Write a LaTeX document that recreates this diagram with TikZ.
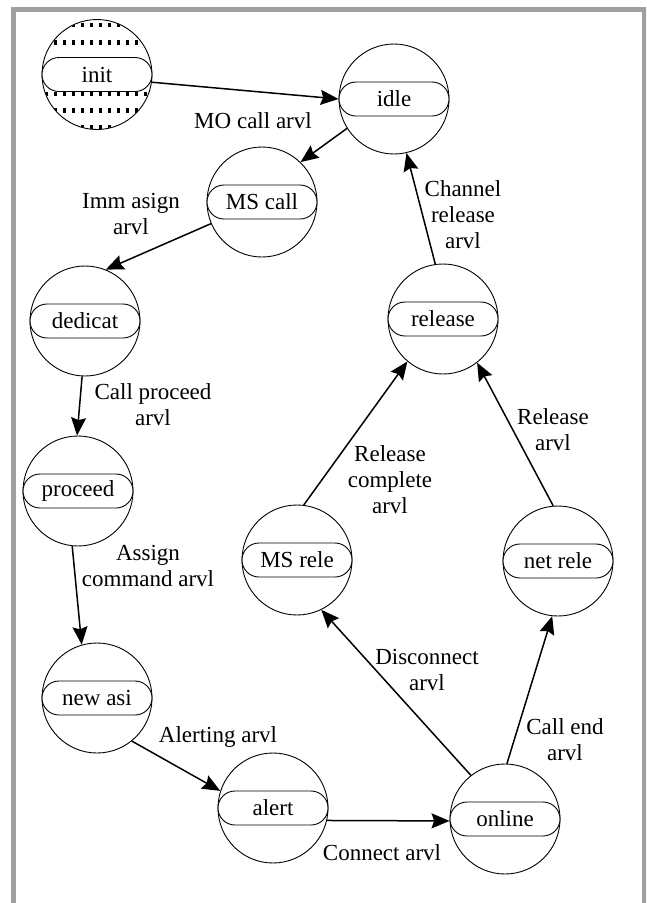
\documentclass[tikz,border=0pt]{standalone}
\usepackage{fontspec}
\setmainfont{Liberation Serif}
\usetikzlibrary{shapes.misc,arrows.meta}
\definecolor{framegray}{RGB}{160,160,160}
\newcommand\dgfont{\fontsize{23}{26}\selectfont}
\begin{document}
\begin{tikzpicture}[x=1pt,y=-1pt,
  state/.style={circle,draw,line width=0.9pt,minimum size=110pt,inner sep=0pt},
  pill/.style={rounded rectangle,draw,line width=0.9pt,minimum width=110pt,
    minimum height=34pt,inner sep=0pt,fill=white,font=\dgfont},
  arr/.style={line width=1.5pt,-{Stealth[length=18pt,width=15pt,inset=2.5pt]}},
  lbl/.style={align=center,font=\dgfont,inner sep=0pt},
  dots/.style={line width=4.5pt,dash pattern=on 2.5pt off 6.5pt},
]
\useasboundingbox (0,0) rectangle (646,903);
\clip (0,0) rectangle (646,903);

% frame open at the bottom
\draw[framegray,line width=5pt,line join=miter] (13.5,920) -- (13.5,9.8) -- (644,9.8) -- (644,920);

% states
\node[state] (init)    at (97,74.5) {};
\node[state] (idle)    at (394,99)  {};
\node[state] (mscall)  at (262,202) {};
\node[state] (dedicat) at (85,321)  {};
\node[state] (proceed) at (78,491)  {};
\node[state] (newasi)  at (97,698)  {};
\node[state] (alert)   at (273,808) {};
\node[state] (online)  at (505,819) {};
\node[state] (msrele)  at (297,560) {};
\node[state] (netrele) at (558,561) {};
\node[state] (release) at (443,319) {};

% hatching of the initial state
\begin{scope}
  \clip (init.center) circle[radius=54.6pt];
  \foreach \dy in {-49.5,-32,19.5,36,52.5}
    \draw[dots] (36.3,{74.5+\dy}) -- (160,{74.5+\dy});
\end{scope}

% state names
\node[pill] (init-n)    at (init)    {init};
\node[pill] (idle-n)    at (idle)    {idle};
\node[pill] (mscall-n)  at (mscall)  {MS call};
\node[pill] (dedicat-n) at (dedicat) {dedicat};
\node[pill] (proceed-n) at (proceed) {proceed};
\node[pill] (newasi-n)  at (newasi)  {new asi};
\node[pill] (alert-n)   at (alert)   {alert};
\node[pill] (online-n)  at (online)  {online};
\node[pill] (msrele-n)  at (msrele)  {MS rele};
\node[pill] (netrele-n) at (netrele) {net rele};
\node[pill] (release-n) at (release) {release};

% transitions
\draw[arr] (init.-8)     -- (idle.180);
\draw[arr] (idle.212)    -- (mscall.46);
\draw[arr] (mscall.203)  -- (dedicat.68);
\draw[arr] (dedicat.-93) -- (proceed.91);
\draw[arr] (proceed.-96) -- (newasi.106);
\draw[arr] (newasi.-51)  -- (alert.162);
\draw[arr] (alert.-13)   -- (online.182);
\draw[arr] (online.128)  -- (msrele.-64);
\draw[arr] (online.88)   -- (netrele.-96);
\draw[arr] (msrele.83)   -- (release.-130);
\draw[arr] (netrele.95)  -- (release.-52);
\draw[arr] (release.98)  -- (idle.-77);

% transition labels
\node[lbl] (l1)  at (253,121) {MO call arvl};
\node[lbl] (l2)  at (131,214) {Imm asign\\arvl};
\node[lbl] (l3)  at (153,405) {Call proceed\\arvl};
\node[lbl] (l4)  at (148,566) {Assign\\command arvl};
\node[lbl] (l5)  at (218,737) {Alerting arvl};
\node[lbl] (l6)  at (382,853) {Connect arvl};
\node[lbl] (l7)  at (427,670) {Disconnect\\arvl};
\node[lbl] (l8)  at (565,740) {Call end\\arvl};
\node[lbl] (l9)  at (390,480) {Release\\complete\\arvl};
\node[lbl] (l10) at (553,430) {Release\\arvl};
\node[lbl] (l11) at (463,215) {Channel\\release\\arvl};
\end{tikzpicture}
\end{document}
